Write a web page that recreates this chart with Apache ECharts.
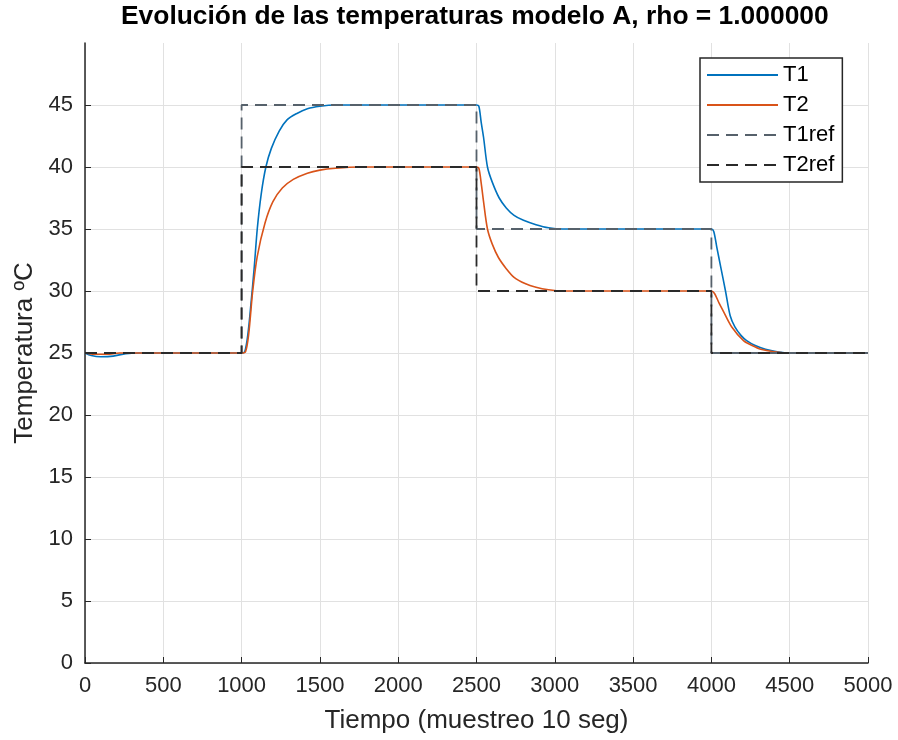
<!DOCTYPE html>
<html>
<head>
<meta charset="utf-8">
<script src="https://cdn.jsdelivr.net/npm/echarts@6/dist/echarts.min.js"></script>
<style>
  html, body { margin: 0; padding: 0; background: #fff; }
  #temps { width: 898px; height: 740px; }
</style>
</head>
<body>
<div id="temps"></div>
<script>
// [muestra, temperatura]
const t1 = [
  [0, 25], [40, 24.8], [100, 24.7], [180, 24.75], [260, 24.95], [350, 25], [1000, 25],
  [1020, 25.1], [1040, 26.5], [1060, 29], [1080, 31.8], [1100, 35], [1125, 37.8],
  [1155, 40], [1190, 41.5], [1240, 42.9], [1290, 43.8], [1350, 44.3], [1420, 44.7],
  [1500, 44.9], [1600, 45], [2500, 45], [2515, 44.9], [2530, 43.6], [2545, 42.4],
  [2570, 40], [2600, 38.8], [2645, 37.5], [2690, 36.7], [2740, 36.1], [2800, 35.7],
  [2880, 35.35], [2960, 35.1], [3050, 35], [4000, 35], [4015, 34.8], [4035, 33.5],
  [4060, 31.9], [4090, 30], [4120, 28], [4150, 27.1], [4190, 26.4], [4225, 26.0],
  [4280, 25.6], [4345, 25.3], [4420, 25.1], [4500, 25], [5000, 25]
];
const t2 = [
  [0, 25], [60, 24.9], [140, 24.9], [220, 25], [1000, 25], [1025, 25.1], [1045, 26.5],
  [1071, 30], [1100, 32.8], [1150, 35.5], [1200, 37.2], [1260, 38.3], [1330, 39],
  [1420, 39.5], [1500, 39.75], [1600, 39.9], [1750, 40], [2500, 40], [2515, 39.9],
  [2530, 38.7], [2545, 37.2], [2570, 35], [2600, 33.8], [2640, 32.7], [2690, 31.8],
  [2740, 31.1], [2810, 30.6], [2880, 30.3], [2960, 30.1], [3050, 30], [4000, 30],
  [4020, 29.8], [4050, 29.0], [4075, 28.4], [4130, 27.1], [4205, 26.0], [4260, 25.6],
  [4315, 25.3], [4400, 25.1], [4500, 25], [5000, 25]
];
const t1ref = [[0, 25], [1000, 25], [1000, 45], [2500, 45], [2500, 35], [4000, 35], [4000, 25], [5000, 25]];
const t2ref = [[0, 25], [1000, 25], [1000, 40], [2500, 40], [2500, 30], [4000, 30], [4000, 25], [5000, 25]];

const ink = '#262626';
const gridColor = '#e1e1e1';
const font = '"Liberation Sans", Arial, sans-serif';

const chart = echarts.init(document.getElementById('temps'));
chart.setOption({
  animation: false,
  backgroundColor: '#fff',
  title: {
    text: 'Evolución de las temperaturas modelo A, rho = 1.000000',
    left: 121,
    top: 4,
    padding: 0,
    textStyle: { fontFamily: font, fontSize: 26.4, fontWeight: 'bold', color: '#000' },
  },
  grid: { left: 85, right: 30, top: 43, bottom: 77 },
  legend: {
    orient: 'vertical',
    left: 700,
    top: 58,
    padding: [6, 8, 6, 6],
    itemGap: 8,
    itemWidth: 71,
    itemHeight: 22,
    backgroundColor: '#fff',
    borderColor: ink,
    borderWidth: 1.5,
    borderRadius: 0,
    itemStyle: { opacity: 0 },
    textStyle: { fontFamily: font, fontSize: 22, color: '#000' },
    data: ['T1', 'T2', 'T1ref', 'T2ref'],
  },
  xAxis: {
    type: 'value',
    min: 0,
    max: 5000,
    interval: 500,
    name: 'Tiempo (muestreo 10 seg)',
    nameLocation: 'middle',
    nameGap: 45,
    nameTextStyle: { fontFamily: font, fontSize: 26, color: ink },
    axisLine: { show: true, onZero: false, lineStyle: { color: ink, width: 1.5 } },
    axisTick: { show: true, inside: true, length: 6, lineStyle: { color: ink } },
    axisLabel: { fontFamily: font, fontSize: 22, color: ink, margin: 12, formatter: v => String(v) },
    splitLine: { show: true, lineStyle: { color: gridColor, width: 1 } },
  },
  yAxis: {
    type: 'value',
    min: 0,
    max: 50,
    interval: 5,
    name: 'Temperatura ºC',
    nameLocation: 'middle',
    nameGap: 45,
    nameTextStyle: { fontFamily: font, fontSize: 26, color: ink },
    axisLine: { show: true, onZero: false, lineStyle: { color: ink, width: 1.5 } },
    axisTick: { show: true, inside: true, length: 6, lineStyle: { color: ink } },
    axisLabel: { fontFamily: font, fontSize: 22, color: ink, margin: 12, showMaxLabel: false },
    splitLine: { show: true, showMaxLine: false, lineStyle: { color: gridColor, width: 1 } },
  },
  series: [
    {
      name: 'T1', type: 'line', data: t1, symbol: 'none', smooth: 0.3,
      lineStyle: { color: '#0072BD', width: 1.6 }, itemStyle: { color: '#0072BD' },
    },
    {
      name: 'T2', type: 'line', data: t2, symbol: 'none', smooth: 0.3,
      lineStyle: { color: '#D95319', width: 1.6 }, itemStyle: { color: '#D95319' },
    },
    {
      name: 'T1ref', type: 'line', data: t1ref, symbol: 'none',
      lineStyle: { color: '#56616b', width: 1.8, type: [12, 7] }, itemStyle: { color: '#56616b' },
    },
    {
      name: 'T2ref', type: 'line', data: t2ref, symbol: 'none',
      lineStyle: { color: '#2a2a2a', width: 1.8, type: [12, 7] }, itemStyle: { color: '#2a2a2a' },
    },
  ],
});
</script>
</body>
</html>
